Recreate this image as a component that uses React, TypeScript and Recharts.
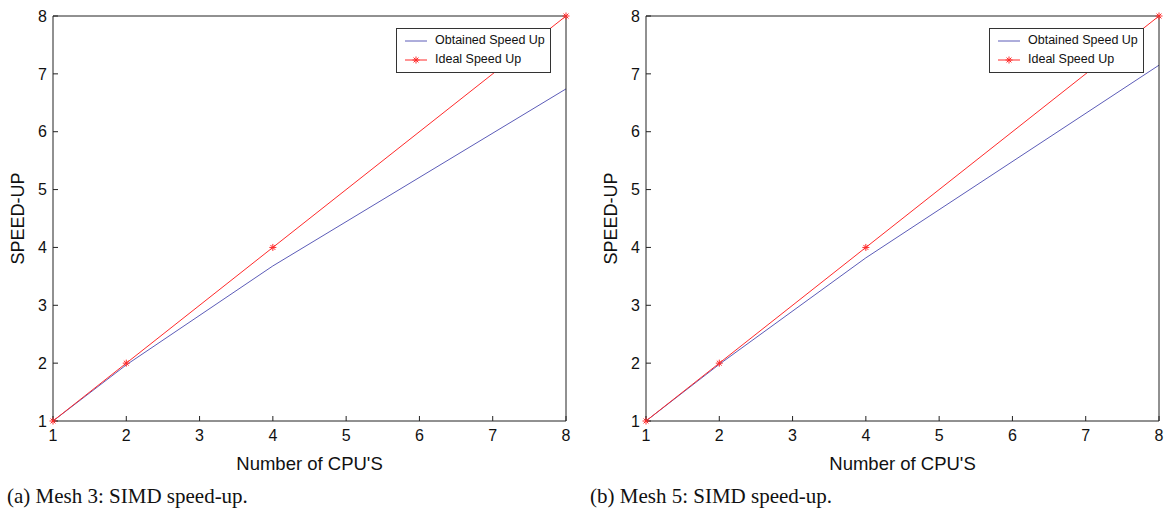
import React from 'react';
import { LineChart, Line, XAxis, YAxis } from 'recharts';

// values
const cpus = [1, 2, 4, 8];
const idealSpeedUp = [1, 2, 4, 8];
const obtainedMesh3 = [1, 1.97, 3.68, 6.74];
const obtainedMesh5 = [1, 1.98, 3.82, 7.15];
const axisTicks = [1, 2, 3, 4, 5, 6, 7, 8];

const BLUE = '#5c5cb8';
const RED = '#ff2a2a';
const FONT = '"Liberation Sans", Arial, sans-serif';

const Star = (props: any) => {
  const { cx, cy } = props;
  if (cx == null || cy == null) return null;
  const r = 3.5;
  const d = r * 0.7;
  return (
    <g stroke={RED} strokeWidth={1}>
      <line x1={cx - r} y1={cy} x2={cx + r} y2={cy} />
      <line x1={cx} y1={cy - r} x2={cx} y2={cy + r} />
      <line x1={cx - d} y1={cy - d} x2={cx + d} y2={cy + d} />
      <line x1={cx - d} y1={cy + d} x2={cx + d} y2={cy - d} />
    </g>
  );
};

const LegendBox = () => (
  <div
    style={{
      border: '1px solid #333',
      background: '#fff',
      padding: '2px 0 2px 6px',
      fontFamily: FONT,
      fontSize: 12.5,
      lineHeight: '19px',
      color: '#111',
      width: 147,
      height: 39,
      whiteSpace: 'nowrap',
    }}
  >
    <div style={{ display: 'flex', alignItems: 'center' }}>
      <svg width={26} height={10} style={{ marginRight: 6 }}>
        <line x1={2} y1={5} x2={24} y2={5} stroke={BLUE} strokeWidth={1} />
      </svg>
      Obtained Speed Up
    </div>
    <div style={{ display: 'flex', alignItems: 'center' }}>
      <svg width={26} height={10} style={{ marginRight: 6 }}>
        <line x1={2} y1={5} x2={24} y2={5} stroke={RED} strokeWidth={1} />
        <Star cx={13} cy={5} />
      </svg>
      Ideal Speed Up
    </div>
  </div>
);

interface PanelProps {
  obtained: number[];
  yAxisWidth: number;
  rightMargin: number;
}

const tickStyle = { fill: '#111', fontSize: 16, fontFamily: FONT };

const Panel: React.FC<PanelProps> = ({ obtained, yAxisWidth, rightMargin }) => {
  const data = cpus.map((c, i) => ({ cpu: c, obtained: obtained[i], ideal: idealSpeedUp[i] }));
  return (
    <LineChart
      width={585}
      height={512}
      data={data}
      margin={{ top: 15, right: rightMargin, bottom: 61, left: 0 }}
    >
      <XAxis
        xAxisId="b"
        dataKey="cpu"
        type="number"
        domain={[1, 8]}
        ticks={axisTicks}
        height={30}
        tickSize={-5}
        tickMargin={14}
        tick={tickStyle}
        stroke="#222"
        label={{
          value: "Number of CPU'S",
          position: 'bottom',
          offset: 6,
          style: { fill: '#111', fontSize: 18.5, fontFamily: FONT },
        }}
      />
      <XAxis
        xAxisId="t"
        orientation="top"
        dataKey="cpu"
        type="number"
        domain={[1, 8]}
        ticks={axisTicks}
        height={1}
        tickSize={-5}
        tick={false}
        stroke="#222"
      />
      <YAxis
        yAxisId="l"
        type="number"
        domain={[1, 8]}
        ticks={axisTicks}
        width={yAxisWidth}
        tickSize={-5}
        tickMargin={11}
        tick={tickStyle}
        stroke="#222"
        label={{
          value: 'SPEED-UP',
          angle: -90,
          position: 'insideLeft',
          offset: yAxisWidth - 35,
          style: { fill: '#111', fontSize: 18, fontFamily: FONT, textAnchor: 'middle' },
        }}
      />
      <YAxis
        yAxisId="r"
        orientation="right"
        type="number"
        domain={[1, 8]}
        ticks={axisTicks}
        width={1}
        tickSize={-5}
        tick={false}
        stroke="#222"
      />
      <Line
        xAxisId="b"
        yAxisId="l"
        dataKey="obtained"
        stroke={BLUE}
        strokeWidth={1}
        dot={false}
        isAnimationActive={false}
      />
      <Line
        xAxisId="b"
        yAxisId="l"
        dataKey="ideal"
        stroke={RED}
        strokeWidth={1}
        dot={<Star />}
        isAnimationActive={false}
      />
    </LineChart>
  );
};

const captionStyle: React.CSSProperties = {
  position: 'absolute',
  top: 484,
  fontFamily: '"Liberation Serif", "Times New Roman", serif',
  fontSize: 21,
  color: '#111',
  whiteSpace: 'nowrap',
};

export default function App() {
  return (
    <div
      style={{
        position: 'absolute',
        left: 0,
        top: 0,
        width: 1171,
        height: 512,
        background: '#fff',
        overflow: 'hidden',
      }}
    >
      <div style={{ position: 'absolute', left: 0, top: 0 }}>
        <Panel obtained={obtainedMesh3} yAxisWidth={53} rightMargin={18} />
      </div>
      <div style={{ position: 'absolute', left: 585, top: 0 }}>
        <Panel obtained={obtainedMesh5} yAxisWidth={61} rightMargin={10} />
      </div>
      <div style={{ position: 'absolute', left: 396, top: 28 }}>
        <LegendBox />
      </div>
      <div style={{ position: 'absolute', left: 989, top: 28 }}>
        <LegendBox />
      </div>
      <div style={{ ...captionStyle, left: 7 }}>(a) Mesh 3: SIMD speed-up.</div>
      <div style={{ ...captionStyle, left: 590 }}>(b) Mesh 5: SIMD speed-up.</div>
    </div>
  );
}
